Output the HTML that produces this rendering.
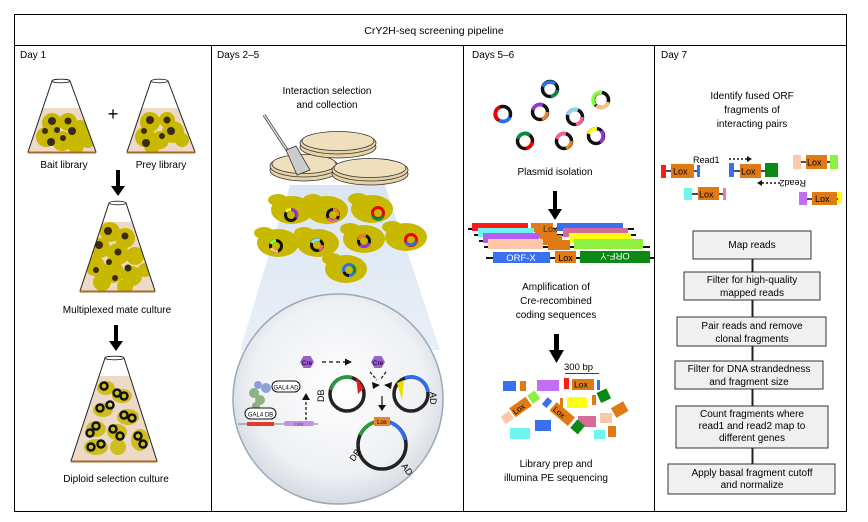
<!DOCTYPE html>
<html><head><meta charset="utf-8"><style>
html,body{margin:0;padding:0;background:#fff;}
svg{display:block;font-family:"Liberation Sans",Arial,sans-serif;}
</style></head><body>
<svg width="868" height="522" viewBox="0 0 868 522" xmlns="http://www.w3.org/2000/svg">
<defs>
<clipPath id="f1"><polygon points="52,81 70,81 96,152 28,152"/></clipPath>
<clipPath id="f2"><polygon points="151,81 168,81 195,152 127,152"/></clipPath>
<clipPath id="f3"><polygon points="109,203 126,203 155,291 80,291"/></clipPath>
<clipPath id="f4"><polygon points="105,358 124,358 157,461 71,461"/></clipPath>
<radialGradient id="bub" cx="0.5" cy="0.45" r="0.55"><stop offset="0" stop-color="#ffffff"/><stop offset="0.75" stop-color="#eef0f3"/><stop offset="1" stop-color="#d5dae2"/></radialGradient>
<linearGradient id="cone" x1="0" y1="0" x2="0" y2="1"><stop offset="0" stop-color="#dbe6f3"/><stop offset="1" stop-color="#e9eff7"/></linearGradient>
<g id="cell"><ellipse cx="0" cy="0" rx="21" ry="14" fill="#c9b800"/><ellipse cx="-14" cy="-10" rx="10" ry="6" fill="#c9b800"/></g>
</defs>
<!-- frame -->
<rect x="14.5" y="14.5" width="832" height="497" fill="none" stroke="#000" stroke-width="1"/>
<line x1="14" y1="45.5" x2="847" y2="45.5" stroke="#000"/>
<line x1="211.5" y1="45" x2="211.5" y2="511" stroke="#000"/>
<line x1="463.5" y1="45" x2="463.5" y2="511" stroke="#000"/>
<line x1="654.5" y1="45" x2="654.5" y2="511" stroke="#000"/>
<text x="434" y="34" font-size="10.5" text-anchor="middle">CrY2H-seq screening pipeline</text>
<g font-size="10">
<text x="20" y="58">Day 1</text><text x="217" y="58">Days 2–5</text><text x="472" y="58">Days 5–6</text><text x="661" y="58">Day 7</text>
</g>

<!-- Day 1 flasks -->
<g clip-path="url(#f1)"><rect x="20" y="108" width="90" height="50" fill="#ecd9c8"/>
<g fill="#c9b800"><circle cx="52" cy="123" r="10"/><circle cx="68" cy="122" r="9"/><circle cx="80" cy="131" r="11"/><circle cx="46" cy="137" r="10"/><circle cx="62" cy="141" r="10"/><circle cx="76" cy="146" r="8"/><circle cx="88" cy="142" r="6"/></g>
<g fill="#3a2a12"><circle cx="52" cy="121" r="4"/><circle cx="68" cy="121" r="3.5"/><circle cx="72" cy="131" r="4"/><circle cx="45" cy="131" r="3"/><circle cx="51" cy="142" r="4"/><circle cx="63" cy="138" r="3"/><circle cx="57" cy="130" r="3"/></g></g>
<polygon points="52,81 70,81 96,152 28,152" fill="none" stroke="#222" stroke-width="1"/>
<line x1="28" y1="152.5" x2="96" y2="152.5" stroke="#a86a2a" stroke-width="2"/>
<ellipse cx="61" cy="81" rx="9" ry="1.8" fill="#fff" stroke="#222" stroke-width="0.8"/>

<g clip-path="url(#f2)"><rect x="120" y="108" width="90" height="50" fill="#ecd9c8"/>
<g fill="#c9b800"><circle cx="150" cy="122" r="10"/><circle cx="167" cy="120" r="8"/><circle cx="173" cy="132" r="11"/><circle cx="145" cy="137" r="10"/><circle cx="160" cy="140" r="9"/><circle cx="182" cy="140" r="7"/><circle cx="152" cy="146" r="8"/></g>
<g fill="#3a2a12"><circle cx="150" cy="120" r="4"/><circle cx="167" cy="120" r="3.5"/><circle cx="171" cy="131" r="4"/><circle cx="144" cy="131" r="3"/><circle cx="146" cy="143" r="4"/><circle cx="162" cy="136" r="3"/></g></g>
<polygon points="151,81 168,81 195,152 127,152" fill="none" stroke="#222" stroke-width="1"/>
<line x1="127" y1="152.5" x2="195" y2="152.5" stroke="#a86a2a" stroke-width="2"/>
<ellipse cx="159.5" cy="81" rx="8.5" ry="1.8" fill="#fff" stroke="#222" stroke-width="0.8"/>

<text x="113" y="120" font-size="18" text-anchor="middle">+</text>
<text x="64" y="168" font-size="10" text-anchor="middle">Bait library</text>
<text x="161" y="168" font-size="10" text-anchor="middle">Prey library</text>
<polygon points="116,170 120,170 120,186 125,186 118,196 111,186 116,186" fill="#000"/>

<g clip-path="url(#f3)"><rect x="70" y="222" width="95" height="72" fill="#ecd9c8"/>
<g fill="#c9b800"><circle cx="110" cy="232" r="10"/><circle cx="125" cy="238" r="10"/><circle cx="100" cy="248" r="10"/><circle cx="118" cy="254" r="11"/><circle cx="135" cy="256" r="9"/><circle cx="95" cy="266" r="10"/><circle cx="113" cy="272" r="11"/><circle cx="132" cy="276" r="10"/><circle cx="145" cy="270" r="7"/><circle cx="102" cy="282" r="9"/><circle cx="125" cy="287" r="8"/></g>
<g fill="#3a2a12"><circle cx="108" cy="231" r="4"/><circle cx="125" cy="236" r="3.5"/><circle cx="99" cy="245" r="4"/><circle cx="118" cy="252" r="3.5"/><circle cx="109" cy="262" r="3"/><circle cx="128" cy="268" r="3.5"/><circle cx="96" cy="270" r="3"/><circle cx="115" cy="278" r="3"/></g></g>
<polygon points="109,203 126,203 155,291 80,291" fill="none" stroke="#222" stroke-width="1"/>
<line x1="80" y1="291.5" x2="155" y2="291.5" stroke="#a86a2a" stroke-width="2"/>
<ellipse cx="117.5" cy="203" rx="8.5" ry="1.8" fill="#fff" stroke="#222" stroke-width="0.8"/>
<text x="117" y="313" font-size="10" text-anchor="middle">Multiplexed mate culture</text>
<polygon points="114,325 118,325 118,341 123,341 116,351 109,341 114,341" fill="#000"/>

<g clip-path="url(#f4)"><rect x="65" y="376" width="100" height="90" fill="#ecd9c8"/>
<g fill="#c9b800" opacity="0.85"><ellipse cx="106" cy="388" rx="9" ry="7"/><ellipse cx="122" cy="396" rx="10" ry="7"/><ellipse cx="103" cy="410" rx="10" ry="7"/><ellipse cx="128" cy="417" rx="11" ry="8"/><ellipse cx="96" cy="429" rx="10" ry="8"/><ellipse cx="117" cy="432" rx="10" ry="8"/><ellipse cx="140" cy="440" rx="9" ry="11"/><ellipse cx="96" cy="447" rx="12" ry="8"/><ellipse cx="118" cy="447" rx="8" ry="8"/></g>
<g fill="none" stroke="#111" stroke-width="2.5"><circle cx="104" cy="386" r="3.5"/><circle cx="117" cy="393" r="3.5"/><circle cx="124" cy="396" r="3.5"/><circle cx="100" cy="408" r="3.5"/><circle cx="110" cy="405" r="3.5"/><circle cx="124" cy="415" r="3.5"/><circle cx="132" cy="418" r="3.5"/><circle cx="96" cy="426" r="3.5"/><circle cx="90" cy="433" r="3.5"/><circle cx="113" cy="429" r="3.5"/><circle cx="120" cy="436" r="3.5"/><circle cx="138" cy="436" r="3.5"/><circle cx="143" cy="444" r="3.5"/><circle cx="91" cy="447" r="3.5"/><circle cx="101" cy="444" r="3.5"/></g></g>
<polygon points="105,358 124,358 157,461 71,461" fill="none" stroke="#222" stroke-width="1"/>
<line x1="71" y1="461.5" x2="157" y2="461.5" stroke="#a86a2a" stroke-width="2"/>
<ellipse cx="114.5" cy="358" rx="9.5" ry="1.8" fill="#fff" stroke="#222" stroke-width="0.8"/>
<text x="116" y="482" font-size="10" text-anchor="middle">Diploid selection culture</text>

<!-- Days 2-5 -->
<text x="327" y="94" font-size="10" text-anchor="middle">Interaction selection</text>
<text x="327" y="108" font-size="10" text-anchor="middle">and collection</text>
<polygon points="290,185 385,185 440,350 240,350" fill="url(#cone)"/>
<g stroke="#333" stroke-width="0.8">
<ellipse cx="304" cy="170" rx="34" ry="11" fill="#e7d3a6"/><ellipse cx="304" cy="166" rx="34" ry="11" fill="#e7d3a6"/><ellipse cx="304" cy="164" rx="32" ry="9.5" fill="#efdfbd"/>
<ellipse cx="338" cy="147" rx="38" ry="11" fill="#e7d3a6"/><ellipse cx="338" cy="143" rx="38" ry="11" fill="#e7d3a6"/><ellipse cx="338" cy="141" rx="36" ry="9.5" fill="#efdfbd"/>
<ellipse cx="370" cy="174" rx="38" ry="11" fill="#e7d3a6"/><ellipse cx="370" cy="170" rx="38" ry="11" fill="#e7d3a6"/><ellipse cx="370" cy="168" rx="36" ry="9.5" fill="#efdfbd"/>
</g>
<line x1="264" y1="115" x2="289" y2="153" stroke="#444" stroke-width="3"/>
<line x1="264" y1="115" x2="289" y2="153" stroke="#ddd" stroke-width="1.5"/>
<polygon points="286,150 296,146 310,170 297,175" fill="#ccc" stroke="#333" stroke-width="0.8"/>
<g>
<use href="#cell" x="292" y="210"/><use href="#cell" x="327" y="210"/><use href="#cell" x="372" y="209"/>
<use href="#cell" x="278" y="243"/><use href="#cell" x="318" y="243"/><use href="#cell" x="364" y="239"/><use href="#cell" x="406" y="237"/><use href="#cell" x="346" y="269"/>
</g>
<g fill="none" stroke-width="3">
<circle cx="291" cy="215" r="5.5" stroke="#111"/><path d="M291,209.5 A5.5,5.5 0 0 1 296,218" stroke="#9b30e0"/><path d="M286,212 A5.5,5.5 0 0 1 291,209.5" stroke="#ff0"/>
<circle cx="333" cy="215" r="5.5" stroke="#111"/><path d="M333,209.5 A5.5,5.5 0 0 1 338,216" stroke="#f58220"/><path d="M328,218 A5.5,5.5 0 0 0 337,219" stroke="#f06292"/>
<circle cx="378" cy="213" r="5.5" stroke="#e00"/><path d="M373,216 A5.5,5.5 0 0 0 383,216" stroke="#0a8a3a"/>
<circle cx="276" cy="246" r="5.5" stroke="#111"/><path d="M271,244 A5.5,5.5 0 0 1 276,240.5" stroke="#7fff3a"/><path d="M271,248 A5.5,5.5 0 0 0 278,251" stroke="#fbbf85"/>
<circle cx="317" cy="245" r="5.5" stroke="#111"/><path d="M312,243 A5.5,5.5 0 0 1 320,240.5" stroke="#8ad8f0"/><path d="M322,245 A5.5,5.5 0 0 1 319,250" stroke="#f06292"/>
<circle cx="364" cy="241" r="5.5" stroke="#111"/><path d="M359,240 A5.5,5.5 0 0 1 366,235.5" stroke="#f58220"/><path d="M360,245 A5.5,5.5 0 0 0 369,243" stroke="#9b30e0"/>
<circle cx="411" cy="240" r="5.5" stroke="#e00"/><path d="M406,242 A5.5,5.5 0 0 0 416,241" stroke="#2a6ff0"/>
<circle cx="349" cy="270" r="5.5" stroke="#2a6ff0"/><path d="M353,266 A5.5,5.5 0 0 1 354,273" stroke="#0a8a3a"/><path d="M349,275.5 A5.5,5.5 0 0 1 344,272" stroke="#111"/>
</g>
<circle cx="338" cy="399" r="105" fill="url(#bub)" stroke="#9aa8b8" stroke-width="1.5"/>
<!-- inside bubble -->
<line x1="238" y1="424" x2="318" y2="424" stroke="#555" stroke-width="0.8"/>
<rect x="247" y="422" width="27" height="4" fill="#e03a2a"/>
<rect x="284" y="421" width="30" height="5" rx="2" fill="#c690e8"/>
<text x="299" y="426" font-size="4.5" text-anchor="middle" fill="#553">CRE</text>
<g fill="#4a8a3a" opacity="0.6"><circle cx="254" cy="393" r="5"/><circle cx="260" cy="400" r="5"/><circle cx="256" cy="406" r="4"/></g>
<g fill="#4a6ac8" opacity="0.6"><circle cx="258" cy="385" r="4"/><circle cx="266" cy="388" r="5"/></g>
<rect x="272" y="381" width="28" height="11" rx="5.5" fill="#fff" stroke="#111" stroke-width="1"/>
<text x="286" y="389.5" font-size="6" text-anchor="middle">GAL4 AD</text>
<rect x="245" y="408" width="31" height="11" rx="5.5" fill="#fff" stroke="#111" stroke-width="1"/>
<text x="260.5" y="416.5" font-size="6" text-anchor="middle">GAL4 DB</text>
<line x1="306" y1="420" x2="306" y2="400" stroke="#111" stroke-width="1.2" stroke-dasharray="3,2"/>
<polygon points="302,400 310,400 306,393" fill="#111"/>
<polygon points="300,362 303.5,356 310.5,356 314,362 310.5,368 303.5,368" fill="#9b5fd0"/>
<text x="307" y="365" font-size="6.5" text-anchor="middle">Cre</text>
<polygon points="371,362 374.5,356 381.5,356 385,362 381.5,368 374.5,368" fill="#9b5fd0"/>
<text x="378" y="365" font-size="6.5" text-anchor="middle">Cre</text>
<line x1="322" y1="362" x2="345" y2="362" stroke="#111" stroke-width="1.2" stroke-dasharray="4,3"/>
<polygon points="345,358.5 352,362 345,365.5" fill="#111"/>
<g fill="none" stroke-width="3.5">
<circle cx="347" cy="394" r="17" stroke="#222"/>
<path d="M331,390 A17,17 0 0 1 352,377.5" stroke="#2a9a3a"/>
<circle cx="411" cy="394" r="17" stroke="#222"/>
<path d="M405,378 A17,17 0 0 1 428,392" stroke="#2a6ff0"/>
<circle cx="382" cy="445" r="24" stroke="#222"/>
<path d="M360,435 A24,24 0 0 1 376,421.7" stroke="#2a9a3a"/>
<path d="M390,422.4 A24,24 0 0 1 405,440" stroke="#2a6ff0"/>
</g>
<polygon points="356,377 364,388 358,394" fill="#e02020"/>
<polygon points="397,383 404,380 402,400" fill="#e8e000"/>
<line x1="370" y1="372" x2="377" y2="380" stroke="#111" stroke-width="1.2" stroke-dasharray="3,2"/>
<line x1="386" y1="372" x2="380" y2="380" stroke="#111" stroke-width="1.2" stroke-dasharray="3,2"/>
<polygon points="372,382 380,385 373,389" fill="#111"/>
<polygon points="392,382 384,385 391,389" fill="#111"/>
<line x1="382" y1="396" x2="382" y2="405" stroke="#111" stroke-width="1.2"/>
<polygon points="378,405 386,405 382,411" fill="#111"/>
<rect x="374" y="417" width="16" height="9" fill="#e8842a"/>
<text x="382" y="424" font-size="6" text-anchor="middle">Lox</text>
<text x="0" y="0" font-size="9" transform="translate(324,402) rotate(-90)">DB</text>
<text x="0" y="0" font-size="9" transform="translate(430,392) rotate(90)">AD</text>
<text x="0" y="0" font-size="9" transform="translate(354,462) rotate(-55)">DB</text>
<text x="0" y="0" font-size="9" transform="translate(401,466) rotate(55)">AD</text>

<!-- Days 5-6 -->
<g fill="none" stroke-width="3.5">
<circle cx="550" cy="89" r="7.5" stroke="#111"/><path d="M543,87 A7.5,7.5 0 0 1 555,84" stroke="#2a6ff0"/><path d="M557,90 A7.5,7.5 0 0 1 551,96.5" stroke="#0a8a3a"/>
<circle cx="503" cy="114" r="7.5" stroke="#111"/><path d="M498,120 A7.5,7.5 0 0 1 500,107" stroke="#e00"/><path d="M499,120 A7.5,7.5 0 0 0 510,117" stroke="#2a6ff0"/>
<circle cx="540" cy="112" r="7.5" stroke="#111"/><path d="M533,110 A7.5,7.5 0 0 1 543,105" stroke="#9b30e0"/><path d="M547,112 A7.5,7.5 0 0 1 542,119" stroke="#f58220"/>
<circle cx="575" cy="117" r="7.5" stroke="#111"/><path d="M568,115 A7.5,7.5 0 0 1 578,110" stroke="#8ad8f0"/><path d="M582,117 A7.5,7.5 0 0 1 576,124.5" stroke="#f06292"/>
<circle cx="601" cy="100" r="7.5" stroke="#111"/><path d="M595,105 A7.5,7.5 0 0 1 602,92.5" stroke="#7fff3a"/><path d="M596,106 A7.5,7.5 0 0 0 608,102" stroke="#fbbf85"/>
<circle cx="525" cy="141" r="7.5" stroke="#111"/><path d="M518,139 A7.5,7.5 0 0 1 530,135" stroke="#0a8a3a"/><path d="M532,142 A7.5,7.5 0 0 1 526,148.5" stroke="#e00"/>
<circle cx="564" cy="141" r="7.5" stroke="#111"/><path d="M557,139 A7.5,7.5 0 0 1 566,133.5" stroke="#f06292"/><path d="M571,141 A7.5,7.5 0 0 1 566,148" stroke="#f58220"/>
<circle cx="596" cy="136" r="7.5" stroke="#111"/><path d="M589,134 A7.5,7.5 0 0 1 597,128.5" stroke="#ff0"/><path d="M601,131 A7.5,7.5 0 0 1 600,142" stroke="#9b30e0"/>
</g>
<text x="555" y="175" font-size="10" text-anchor="middle">Plasmid isolation</text>
<polygon points="553,191 557,191 557,209 562,209 555,220 548,209 553,209" fill="#000"/>
<g>
<line x1="468" y1="229" x2="634" y2="229" stroke="#111" stroke-width="2"/>
<rect x="472" y="223" width="56" height="8" fill="#ff1a1a"/><rect x="531" y="223" width="22" height="9" fill="#e07a14"/><rect x="557" y="223" width="66" height="8" fill="#3a6ff0"/>
<line x1="474" y1="235" x2="636" y2="235" stroke="#111" stroke-width="2"/>
<rect x="478" y="228" width="56" height="9" fill="#6ff5f0"/><rect x="535" y="229" width="22" height="9" fill="#e07a14"/><rect x="563" y="228" width="65" height="9" fill="#d86a98"/>
<line x1="479" y1="241" x2="640" y2="241" stroke="#111" stroke-width="2"/>
<rect x="483" y="233" width="56" height="10" fill="#b65cf0"/><rect x="540" y="235" width="22" height="10" fill="#e07a14"/><rect x="569" y="233" width="62" height="10" fill="#ffff10"/>
<line x1="484" y1="247" x2="650" y2="247" stroke="#111" stroke-width="2"/>
<rect x="488" y="239" width="55" height="10" fill="#fcc8a8"/><rect x="548" y="240" width="22" height="10" fill="#e07a14"/><rect x="574" y="239" width="69" height="10" fill="#90f040"/>
<line x1="486" y1="258" x2="654" y2="258" stroke="#111" stroke-width="2"/>
<rect x="493" y="252" width="57" height="11" fill="#3a6ff0"/><rect x="555" y="251" width="21" height="12" fill="#e07a14"/><rect x="580" y="251" width="70" height="12" fill="#0a8a14"/>
<text x="521" y="261" font-size="9.5" fill="#fff" text-anchor="middle">ORF-X</text>
<text x="565.5" y="261" font-size="9" text-anchor="middle">Lox</text>
<text x="0" y="0" font-size="9.5" fill="#fff" text-anchor="middle" transform="translate(615,253) rotate(180)">ORF-Y</text>
<text x="543" y="232" font-size="9" fill="#333">Lox</text>
</g>
<text x="556" y="290" font-size="10" text-anchor="middle">Amplification of</text>
<text x="556" y="304" font-size="10" text-anchor="middle">Cre-recombined</text>
<text x="556" y="318" font-size="10" text-anchor="middle">coding sequences</text>
<polygon points="554,334 559,334 559,350 564,350 556.5,363 549,350 554,350" fill="#000"/>
<text x="564" y="370" font-size="9.5">300 bp</text>
<line x1="565" y1="373.5" x2="599" y2="373.5" stroke="#000" stroke-width="0.8"/>
<g>
<rect x="503" y="381" width="13" height="10" fill="#3a6ff0"/><rect x="520" y="381" width="6" height="10" fill="#e07a14"/>
<rect x="537" y="380" width="22" height="11" fill="#c070f0"/>
<rect x="564" y="378" width="5" height="11" fill="#ff1a1a"/><rect x="572" y="379" width="22" height="11" fill="#e07a14"/><text x="574" y="387.5" font-size="8.5">Lox</text><rect x="597" y="380" width="3" height="10" fill="#3a6ff0"/>
<rect x="567" y="397" width="20" height="11" fill="#ffff10"/><rect x="560" y="398" width="3" height="9" fill="#e07a14"/>
<rect x="578" y="416" width="18" height="11" fill="#d86a98"/>
<rect x="510" y="428" width="20" height="11" fill="#6ff5f0"/>
<rect x="535" y="420" width="16" height="11" fill="#3a6ff0"/>
<rect x="594" y="430" width="11" height="9" fill="#6ff5f0"/><rect x="608" y="426" width="8" height="11" fill="#e07a14"/>
<rect x="600" y="413" width="12" height="10" fill="#fcc8a8"/><rect x="613" y="404" width="14" height="11" fill="#e07a14" transform="rotate(-30 620 410)"/>
<rect x="598" y="390" width="11" height="11" fill="#0a8a14" transform="rotate(-25 604 395)"/><rect x="592" y="395" width="4" height="10" fill="#e07a14"/>
<g transform="rotate(-35 520 408)"><rect x="499" y="404" width="10" height="9" fill="#fcc8a8"/><rect x="511" y="402" width="20" height="11" fill="#e07a14"/><text x="512" y="411" font-size="8">Lox</text><rect x="533" y="402" width="9" height="10" fill="#90f040"/></g>
<g transform="rotate(40 565 417)"><rect x="539" y="413" width="6" height="9" fill="#3a6ff0"/><rect x="549" y="411" width="24" height="11" fill="#e07a14"/><text x="551" y="420" font-size="8">Lox</text><rect x="576" y="411" width="10" height="11" fill="#0a8a14"/></g>
</g>
<text x="556" y="467" font-size="10" text-anchor="middle">Library prep and</text>
<text x="556" y="481" font-size="10" text-anchor="middle">illumina PE sequencing</text>

<!-- Day 7 -->
<text x="752" y="99" font-size="10" text-anchor="middle">Identify fused ORF</text>
<text x="752" y="113" font-size="10" text-anchor="middle">fragments of</text>
<text x="752" y="127" font-size="10" text-anchor="middle">interacting pairs</text>
<g font-size="9">
<text x="693" y="163">Read1</text>
<line x1="729" y1="159" x2="747" y2="159" stroke="#111" stroke-width="1.5" stroke-dasharray="2,2"/><polygon points="747,156 752,159 747,162" fill="#111"/>
<text x="0" y="0" transform="translate(806,180) rotate(180)">Read2</text>
<line x1="762" y1="183" x2="780" y2="183" stroke="#111" stroke-width="1.5" stroke-dasharray="2,2"/><polygon points="762,180 757,183 762,186" fill="#111"/>
<rect x="661" y="165" width="5" height="13" fill="#ff1a1a"/><line x1="666" y1="171" x2="697" y2="171" stroke="#111" stroke-width="1.5"/><rect x="671" y="164" width="23" height="14" fill="#e07a14"/><text x="673" y="174.5">Lox</text><rect x="697" y="165" width="3" height="12" fill="#3a6ff0"/>
<rect x="729" y="163" width="5" height="14" fill="#3a6ff0"/><line x1="734" y1="171" x2="765" y2="171" stroke="#111" stroke-width="1.5"/><rect x="740" y="164" width="21" height="14" fill="#e07a14"/><text x="741" y="174.5">Lox</text><rect x="765" y="163" width="13" height="14" fill="#0a8a14"/>
<rect x="793" y="155" width="8" height="14" fill="#fcc8a8"/><line x1="801" y1="162" x2="830" y2="162" stroke="#111" stroke-width="1.5"/><rect x="806" y="155" width="21" height="14" fill="#e07a14"/><text x="807" y="165.5">Lox</text><rect x="830" y="155" width="8" height="14" fill="#90f040"/>
<rect x="684" y="188" width="8" height="12" fill="#6ff5f0"/><line x1="692" y1="194" x2="723" y2="194" stroke="#111" stroke-width="1.5"/><rect x="698" y="187" width="21" height="13" fill="#e07a14"/><text x="699" y="197.5">Lox</text><rect x="723" y="188" width="3" height="12" fill="#e87aa8"/>
<rect x="799" y="192" width="8" height="13" fill="#c070f0"/><line x1="807" y1="199" x2="840" y2="199" stroke="#111" stroke-width="1.5"/><rect x="812" y="192" width="25" height="13" fill="#e07a14"/><text x="815" y="202">Lox</text><rect x="838" y="192" width="4" height="12" fill="#ffff10"/>
</g>
<line x1="752.5" y1="259" x2="752.5" y2="464" stroke="#222" stroke-width="2"/>
<g fill="#f0f0f0" stroke="#333" stroke-width="1">
<rect x="693" y="231" width="118" height="28"/>
<rect x="684" y="272" width="136" height="28"/>
<rect x="677" y="317" width="149" height="29"/>
<rect x="675" y="361" width="148" height="28"/>
<rect x="676" y="406" width="152" height="42"/>
<rect x="668" y="464" width="167" height="30"/>
</g>
<g font-size="10" text-anchor="middle">
<text x="752" y="248">Map reads</text>
<text x="752" y="283">Filter for high-quality</text><text x="752" y="296">mapped reads</text>
<text x="752" y="329">Pair reads and remove</text><text x="752" y="342">clonal fragments</text>
<text x="749" y="372">Filter for DNA strandedness</text><text x="749" y="385">and fragment size</text>
<text x="752" y="417">Count fragments where</text><text x="752" y="429">read1 and read2 map to</text><text x="752" y="441">different genes</text>
<text x="752" y="476">Apply basal fragment cutoff</text><text x="752" y="488">and normalize</text>
</g>
</svg>
</body></html>
